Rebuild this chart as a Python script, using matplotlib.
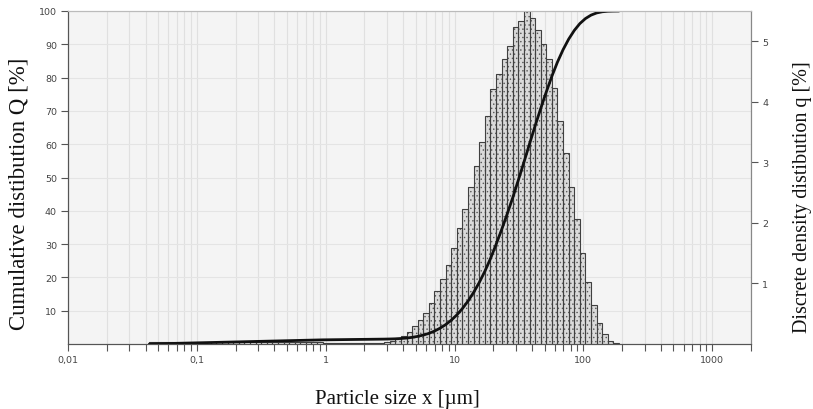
import numpy as np
import matplotlib
matplotlib.use('Agg')
import matplotlib.pyplot as plt

# size classes: geometric series between these limits [um]
class_limits = (0.0428, 189.0)

# discrete density distribution q [%] per size class
q = [
    0.04, 0.04, 0.04, 0.04, 0.04, 0.04, 0.04, 0.04, 0.04, 0.04,
    0.04, 0.04, 0.04, 0.04, 0.04, 0.04, 0.04, 0.04, 0.04, 0.04,
    0.04, 0.04, 0.04, 0.04, 0.04, 0.04, 0.04, 0.04, 0.04, 0.04,
    0.04, 0.02, 0.02, 0.02, 0.02, 0.02, 0.02, 0.02, 0.02, 0.02,
    0.02, 0.02, 0.04, 0.05, 0.10, 0.13,
    0.20, 0.30, 0.39, 0.51, 0.68, 0.87, 1.07, 1.31, 1.59, 1.91,
    2.23, 2.59, 2.94, 3.34, 3.77, 4.21, 4.46, 4.70, 4.93, 5.24,
    5.33, 5.50, 5.39, 5.18, 4.96, 4.70, 4.23, 3.69, 3.15, 2.59,
    2.06, 1.50, 1.03, 0.65, 0.35, 0.16, 0.05, 0.02,
]

x_ticks = [0.01, 0.1, 1, 10, 100, 1000]
x_ticklabels = ['0,01', '0,1', '1', '10', '100', '1000']
q_ticks = [1, 2, 3, 4, 5]
cum_ticks = [10, 20, 30, 40, 50, 60, 70, 80, 90, 100]

edges = np.geomspace(class_limits[0], class_limits[1], len(q) + 1)
q = np.array(q)
# cumulative distribution Q, normalised to 100 %
Q = np.concatenate([[0.0], np.cumsum(q) / q.sum() * 100])

serif = 'Liberation Serif'

fig = plt.figure(figsize=(8.13, 4.10), dpi=100)
ax = fig.add_axes([68 / 813, 65 / 410, 683 / 813, 333 / 410])
ax.set_facecolor('#f4f4f4')
ax.set_xscale('log')
ax.set_xlim(0.01, 2000)
ax.set_ylim(0, 100)

ax.set_xticks(x_ticks, labels=x_ticklabels)
ax.xaxis.set_minor_locator(matplotlib.ticker.LogLocator(base=10, subs=np.arange(2, 10)))
ax.xaxis.set_minor_formatter(matplotlib.ticker.NullFormatter())
ax.set_yticks(cum_ticks)
ax.grid(True, which='both', axis='x', color='#e0e0e0', linewidth=0.8)
ax.grid(True, which='major', axis='y', color='#e4e4e4', linewidth=0.8)
ax.set_axisbelow(True)
ax.tick_params(axis='both', which='both', direction='out', length=5, width=0.8,
               color='#555555', labelsize=6.8, labelcolor='#444444', pad=3)

ax2 = ax.twinx()
ax2.set_ylim(0, 5.5)
ax2.set_yticks(q_ticks)
ax2.tick_params(axis='y', direction='out', length=5, width=0.8, color='#555555',
                labelsize=6.8, labelcolor='#444444', pad=3)

# histogram of q: dotted fill first, then the class outlines
plt.rcParams['hatch.linewidth'] = 0.5
ax2.bar(edges[:-1], q, width=np.diff(edges), align='edge',
        facecolor='#dadada', edgecolor='#5a5a5a', hatch='....', linewidth=0)
ax2.bar(edges[:-1], q, width=np.diff(edges), align='edge',
        facecolor='none', edgecolor='#404040', linewidth=0.8)
# cumulative curve drawn in the Q scale on top of the bars
ax2.plot(edges, Q, color='#111111', linewidth=2.0, transform=ax.transData,
         solid_capstyle='round')

for a in (ax, ax2):
    a.spines['left'].set_color('#555555')
    a.spines['bottom'].set_color('#555555')
    a.spines['right'].set_color('#888888')
    a.spines['top'].set_color('#bbbbbb')

fig.text(397 / 813, 10 / 410, 'Particle size x [µm]', ha='center', va='center',
         family=serif, size=15, color='#111111')
fig.text(19 / 813, 1 - 194 / 410, 'Cumulative distibution Q [%]', rotation=90,
         ha='center', va='center', family=serif, size=16.5, color='#111111')
fig.text(802 / 813, 1 - 197 / 410, 'Discrete density distibution q [%]', rotation=90,
         ha='center', va='center', family=serif, size=14.5, color='#111111')

fig.savefig('out.png', dpi=100)
